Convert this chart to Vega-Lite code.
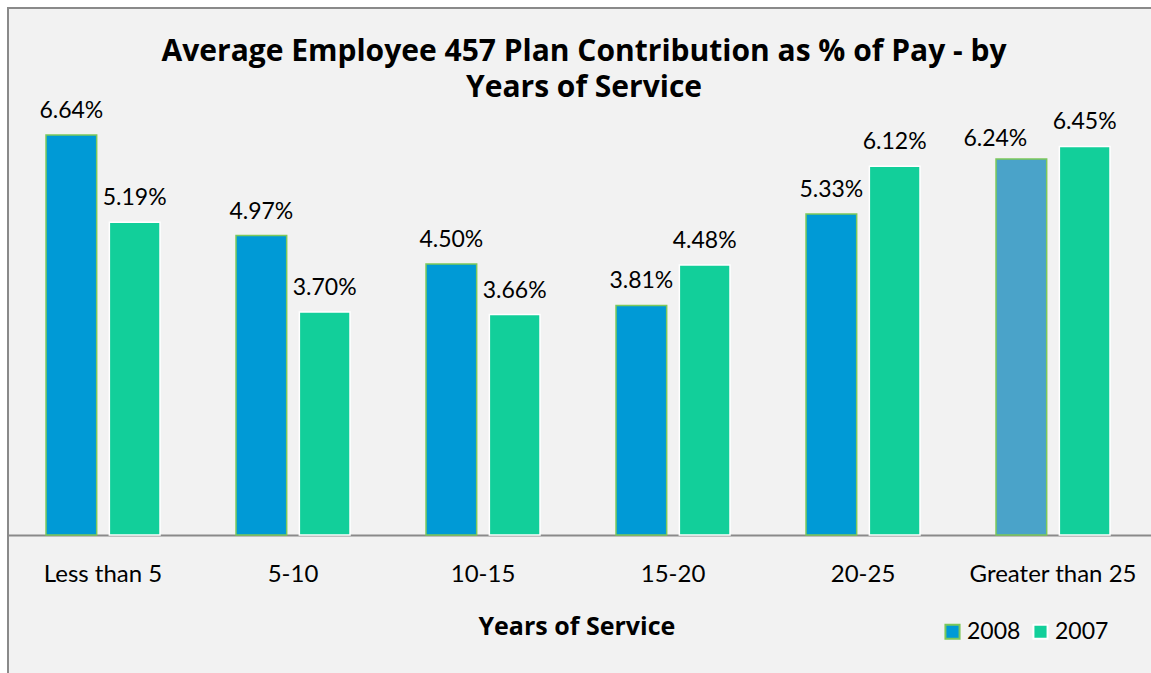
{
  "$schema": "https://vega.github.io/schema/vega-lite/v6.json",
  "width": 1152,
  "height": 672,
  "autosize": {"type": "none"},
  "padding": {"left": 8, "top": 8, "right": 0, "bottom": 0},
  "background": "#ffffff",
  "config": {
    "font": "Lato",
    "view": {"fill": "#f2f2f2", "stroke": "#8a8a8a", "strokeWidth": 2}
  },
  "title": {
    "text": ["Average Employee 457 Plan Contribution as % of Pay - by", "Years of Service"],
    "fontSize": 30,
    "fontWeight": "bold",
    "font": "Open Sans",
    "color": "#000000",
    "anchor": "middle",
    "frame": "group",
    "offset": -95,
    "lineHeight": 36
  },
  "data": {
    "values": [
      {"cat": "Less than 5", "year": "2008", "value": 0.0664},
      {"cat": "Less than 5", "year": "2007", "value": 0.0519},
      {"cat": "5-10", "year": "2008", "value": 0.0497},
      {"cat": "5-10", "year": "2007", "value": 0.0370},
      {"cat": "10-15", "year": "2008", "value": 0.0450},
      {"cat": "10-15", "year": "2007", "value": 0.0366},
      {"cat": "15-20", "year": "2008", "value": 0.0381},
      {"cat": "15-20", "year": "2007", "value": 0.0448},
      {"cat": "20-25", "year": "2008", "value": 0.0533},
      {"cat": "20-25", "year": "2007", "value": 0.0612},
      {"cat": "Greater than 25", "year": "2008", "value": 0.0624},
      {"cat": "Greater than 25", "year": "2007", "value": 0.0645}
    ]
  },
  "encoding": {
    "x": {
      "field": "cat",
      "type": "nominal",
      "sort": null,
      "scale": {"paddingInner": 0.4, "paddingOuter": 0.2316, "align": 0.432},
      "axis": {
        "title": "Years of Service",
        "titleFontSize": 25,
        "titleFont": "Open Sans",
        "titleFontWeight": "bold",
        "titleColor": "#000000",
        "titlePadding": 28,
        "titleAnchor": "start",
        "titleX": 470,
        "labelAngle": 0,
        "labelFontSize": 24,
        "labelColor": "#000000",
        "labelPadding": 27,
        "ticks": false,
        "domainColor": "#8a8a8a",
        "domainWidth": 2,
        "offset": -145
      }
    },
    "xOffset": {"field": "year", "type": "nominal", "sort": ["2008", "2007"], "scale": {"paddingInner": 0.2, "paddingOuter": 0}},
    "y": {
      "field": "value",
      "type": "quantitative",
      "scale": {"domain": [-0.02407, 0.08748], "nice": false, "zero": false},
      "axis": null
    }
  },
  "layer": [
    {
      "mark": {"type": "bar", "strokeWidth": 1.5},
      "encoding": {
        "y2": {"datum": 0},
        "color": {
          "field": "year",
          "type": "nominal",
          "scale": {"domain": ["2008", "2007"], "range": ["#009ad6", "#12cf9a"]},
          "condition": {"test": "datum.cat === 'Greater than 25' && datum.year === '2008'", "value": "#4aa3c9"},
          "legend": {
            "title": null,
            "orient": "none",
            "legendX": 933,
            "legendY": 612,
            "direction": "horizontal",
            "symbolType": "square",
            "symbolSize": 200,
            "symbolStrokeWidth": 2,
            "labelFontSize": 23,
            "labelColor": "#000000",
            "columnPadding": 8,
            "labelOffset": 3
          }
        },
        "stroke": {
          "field": "year",
          "type": "nominal",
          "scale": {"domain": ["2008", "2007"], "range": ["#7cc85a", "#ffffff"]},
          "legend": {
            "title": null,
            "orient": "none",
            "legendX": 933,
            "legendY": 612,
            "direction": "horizontal",
            "symbolType": "square",
            "symbolSize": 200,
            "labelFontSize": 23,
            "labelColor": "#000000",
            "columnPadding": 8,
            "labelOffset": 3
          }
        }
      }
    },
    {
      "transform": [{"filter": "!(datum.cat === 'Greater than 25' && datum.year === '2008')"}],
      "mark": {"type": "text", "fontSize": 23, "baseline": "alphabetic", "dy": -17, "color": "#000000", "font": "Lato"},
      "encoding": {"text": {"field": "value", "type": "quantitative", "format": ".2%"}}
    },
    {
      "transform": [{"filter": "datum.cat === 'Greater than 25' && datum.year === '2008'"}],
      "mark": {"type": "text", "fontSize": 23, "baseline": "alphabetic", "dy": -13, "dx": -26, "color": "#000000", "font": "Lato"},
      "encoding": {"text": {"field": "value", "type": "quantitative", "format": ".2%"}}
    }
  ]
}
